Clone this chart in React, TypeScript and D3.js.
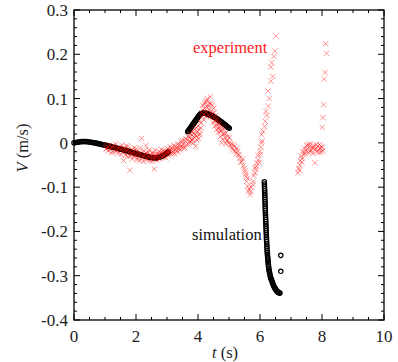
import React from "react";
import * as d3 from "d3";

const xTicks = [0, 2, 4, 6, 8, 10];
const yTicks = [-0.4, -0.3, -0.2, -0.1, 0, 0.1, 0.2, 0.3];
const yTickLabels = ["-0.4", "-0.3", "-0.2", "-0.1", "0", "0.1", "0.2", "0.3"];

// simulation (black open circles)
const simSeg1: [number, number][] = [
  [0, 0], [0.05, 0.0008], [0.1, 0.0015], [0.15, 0.002], [0.2, 0.0025], [0.25, 0.0028], [0.3, 0.003], [0.35, 0.003],
  [0.4, 0.0028], [0.45, 0.0025], [0.5, 0.002], [0.55, 0.0014], [0.6, 0.0008], [0.65, 0.0002], [0.7, -0.0005],
  [0.75, -0.0012], [0.8, -0.002], [0.85, -0.0028], [0.9, -0.0036], [0.95, -0.0044], [1.0, -0.0052], [1.05, -0.006],
  [1.1, -0.0068], [1.15, -0.0077], [1.2, -0.0086], [1.25, -0.0095], [1.3, -0.0104], [1.35, -0.0113], [1.4, -0.0122],
  [1.45, -0.0131], [1.5, -0.014], [1.55, -0.015], [1.6, -0.016], [1.65, -0.017], [1.7, -0.018], [1.75, -0.019],
  [1.8, -0.02], [1.85, -0.021], [1.9, -0.022], [1.95, -0.023], [2.0, -0.024], [2.05, -0.025], [2.1, -0.026],
  [2.15, -0.027], [2.2, -0.028], [2.25, -0.029], [2.3, -0.0299], [2.35, -0.0308], [2.4, -0.0316], [2.45, -0.0324],
  [2.5, -0.033], [2.55, -0.0335], [2.6, -0.0338], [2.65, -0.0338], [2.7, -0.0333], [2.75, -0.0325], [2.8, -0.0312],
  [2.85, -0.0295], [2.9, -0.0275], [2.95, -0.0252], [3.0, -0.0228], [3.04, -0.0208],
];
const simSeg2: [number, number][] = [
  [3.67, 0.025], [3.69, 0.027], [3.71, 0.029], [3.73, 0.031], [3.75, 0.033], [3.77, 0.035], [3.79, 0.037],
  [3.81, 0.039], [3.83, 0.041], [3.85, 0.043], [3.87, 0.045], [3.89, 0.047], [3.91, 0.049], [3.93, 0.051],
  [3.95, 0.053], [3.97, 0.055], [3.99, 0.057], [4.01, 0.059], [4.03, 0.061], [4.05, 0.063], [4.08, 0.065],
  [4.11, 0.066], [4.14, 0.0668], [4.17, 0.0672], [4.2, 0.0672], [4.23, 0.067], [4.26, 0.0665], [4.29, 0.066],
  [4.32, 0.0652], [4.35, 0.0644], [4.38, 0.0635], [4.41, 0.0625], [4.44, 0.0614], [4.47, 0.0602], [4.5, 0.059],
  [4.53, 0.0578], [4.56, 0.0565], [4.59, 0.0552], [4.62, 0.0538], [4.65, 0.0524], [4.68, 0.051], [4.71, 0.0495],
  [4.74, 0.048], [4.77, 0.0465], [4.8, 0.045], [4.83, 0.0433], [4.86, 0.0416], [4.89, 0.04], [4.92, 0.0382],
  [4.95, 0.0365], [4.98, 0.0348], [5.01, 0.033],
];
const simSeg3: [number, number][] = [
  [6.14, -0.088], [6.142, -0.093], [6.145, -0.098], [6.147, -0.103], [6.15, -0.108], [6.152, -0.113],
  [6.155, -0.118], [6.157, -0.123], [6.16, -0.128], [6.162, -0.133], [6.165, -0.138], [6.167, -0.143],
  [6.17, -0.148], [6.172, -0.153], [6.175, -0.158], [6.177, -0.163], [6.18, -0.168], [6.183, -0.173],
  [6.186, -0.178], [6.189, -0.183], [6.192, -0.188], [6.195, -0.193], [6.198, -0.198], [6.201, -0.203],
  [6.204, -0.208], [6.207, -0.213], [6.21, -0.218], [6.214, -0.223], [6.218, -0.228], [6.222, -0.233],
  [6.226, -0.238], [6.23, -0.243], [6.234, -0.247], [6.238, -0.251], [6.243, -0.255], [6.248, -0.259],
  [6.253, -0.263], [6.258, -0.267], [6.264, -0.271], [6.27, -0.275], [6.276, -0.279], [6.283, -0.283],
  [6.29, -0.287], [6.3, -0.29], [6.31, -0.294], [6.322, -0.298], [6.334, -0.302], [6.347, -0.305],
  [6.36, -0.3075], [6.374, -0.31], [6.389, -0.313], [6.404, -0.316], [6.42, -0.319], [6.436, -0.322],
  [6.453, -0.3245], [6.47, -0.327], [6.488, -0.329], [6.506, -0.331], [6.525, -0.333], [6.544, -0.335],
  [6.564, -0.336], [6.584, -0.337], [6.604, -0.338], [6.624, -0.339], [6.644, -0.339],
];
const simExtra: [number, number][] = [[6.67, -0.254], [6.67, -0.29]];

// experiment (red crosses)
const expBand: [number, number][] = [
  [1.02, -0.004], [1.06, -0.012], [1.1, -0.018], [1.14, -0.006], [1.18, -0.015], [1.22, -0.009], [1.26, -0.02],
  [1.3, -0.011], [1.34, -0.003], [1.38, -0.016], [1.42, -0.024], [1.46, -0.01], [1.5, -0.014], [1.54, -0.005],
  [1.58, -0.021], [1.6, -0.04], [1.62, -0.013], [1.66, -0.028], [1.7, -0.017], [1.74, -0.008], [1.78, -0.022],
  [1.8, -0.062], [1.82, -0.03], [1.86, -0.015], [1.9, -0.024], [1.94, -0.011], [1.98, -0.027], [2.02, -0.019],
  [2.06, -0.033], [2.1, -0.022], [2.14, -0.012], [2.18, 0.01], [2.22, -0.028], [2.26, -0.018], [2.3, -0.035],
  [2.32, -0.006], [2.34, -0.024], [2.38, -0.03], [2.42, -0.016], [2.46, -0.027], [2.5, -0.036], [2.54, -0.021],
  [2.58, -0.03], [2.59, -0.059], [2.62, -0.017], [2.66, -0.026], [2.7, -0.034], [2.74, -0.02], [2.78, -0.028],
  [2.82, -0.015], [2.86, -0.024], [2.9, -0.031], [2.94, -0.018], [2.98, -0.025], [3.02, -0.013], [3.06, -0.021],
  [3.1, -0.009], [3.14, -0.017], [3.18, -0.024], [3.22, -0.006], [3.26, -0.014], [3.3, -0.019], [3.34, -0.003],
  [3.38, -0.011], [3.42, -0.016], [3.46, 0.002], [3.5, -0.007], [3.54, -0.013], [3.58, 0.005], [3.62, -0.004],
];
const expBand2: [number, number][] = [
  [1.04, -0.014], [1.12, -0.01], [1.2, -0.022], [1.28, -0.006], [1.36, -0.019], [1.44, -0.013], [1.52, -0.026],
  [1.56, -0.012], [1.64, -0.018], [1.68, -0.007], [1.72, -0.03], [1.76, -0.016], [1.84, -0.026], [1.88, -0.036],
  [1.92, -0.019], [1.96, -0.031], [2.0, -0.014], [2.04, -0.038], [2.08, -0.027], [2.12, -0.04], [2.16, -0.024],
  [2.2, -0.034], [2.24, -0.042], [2.28, -0.026], [2.36, -0.038], [2.4, -0.022], [2.44, -0.04], [2.48, -0.03],
  [2.52, -0.042], [2.56, -0.026], [2.6, -0.036], [2.64, -0.03], [2.68, -0.04], [2.72, -0.026], [2.76, -0.036],
  [2.8, -0.022], [2.84, -0.032], [2.88, -0.018], [2.92, -0.026], [2.96, -0.034], [3.0, -0.02], [3.04, -0.028],
  [3.08, -0.016], [3.12, -0.025], [3.16, -0.012], [3.2, -0.018], [3.24, -0.024], [3.28, -0.008], [3.32, -0.012],
  [3.36, -0.02], [3.4, -0.004], [3.44, -0.01], [3.48, 0.006], [3.52, -0.002], [3.56, -0.01], [3.6, 0.01],
];
const expPeak: [number, number][] = [
  [3.66, 0.006], [3.7, -0.004], [3.74, 0.012], [3.77, 0.002], [3.8, 0.018], [3.83, 0.008], [3.86, 0.022],
  [3.89, 0.012], [3.92, -0.008], [3.95, 0.016], [3.98, 0.026], [4.01, 0.01], [4.04, 0.03], [4.07, 0.02],
  [4.1, 0.045], [4.13, 0.06], [4.16, 0.075], [4.19, 0.052], [4.22, 0.088], [4.25, 0.07], [4.28, 0.095],
  [4.31, 0.08], [4.34, 0.062], [4.37, 0.09], [4.4, 0.104], [4.43, 0.072], [4.46, 0.085], [4.49, 0.058],
  [4.52, 0.068], [4.55, 0.05], [4.58, 0.062], [4.61, 0.04], [4.64, 0.052], [4.67, 0.032], [4.7, 0.044],
  [4.73, 0.026], [4.76, 0.0], [4.78, 0.036], [4.81, 0.02], [4.84, 0.03], [4.87, 0.012], [4.9, 0.022],
  [4.93, 0.004], [4.96, 0.014], [5.0, 0.0], [5.04, -0.006], [5.09, -0.011], [5.14, -0.004], [5.2, -0.018],
  [5.25, -0.012], [5.3, -0.026], [5.35, -0.034], [5.41, -0.042], [5.46, -0.052], [5.52, -0.064], [5.55, -0.076],
  [5.57, -0.087], [5.6, -0.098], [5.62, -0.109], [5.68, -0.117], [5.73, -0.1], [5.78, -0.087], [5.84, -0.068],
  [5.84, -0.056], [5.89, -0.053], [5.9, -0.045], [5.95, -0.038], [6.0, -0.019], [6.02, -0.026], [6.05, 0.0],
  [6.07, 0.004], [6.05, 0.019], [6.15, 0.037], [6.17, 0.049], [6.19, 0.071], [6.27, 0.083], [6.26, 0.117],
  [6.35, 0.139], [6.41, 0.15], [6.35, 0.171], [6.38, 0.181], [6.45, 0.195], [6.48, 0.207], [6.51, 0.241],
];
const expPeak2: [number, number][] = [
  [3.68, 0.014], [3.72, 0.002], [3.76, 0.02], [3.79, 0.008], [3.82, 0.026], [3.85, 0.0], [3.88, 0.03],
  [3.91, 0.018], [3.94, 0.034], [3.97, 0.006], [4.0, 0.038], [4.03, 0.018], [4.06, 0.048], [4.09, 0.034],
  [4.12, 0.068], [4.15, 0.085], [4.18, 0.064], [4.21, 0.078], [4.24, 0.092], [4.27, 0.06], [4.3, 0.1],
  [4.33, 0.085], [4.36, 0.074], [4.39, 0.058], [4.42, 0.088], [4.45, 0.066], [4.48, 0.046], [4.51, 0.078],
  [4.54, 0.038], [4.57, 0.052], [4.6, 0.03], [4.63, 0.044], [4.66, 0.024], [4.69, 0.036], [4.72, 0.014],
  [4.75, 0.028], [4.8, 0.008], [4.85, 0.02], [4.9, -0.002], [4.95, 0.006], [5.02, 0.012], [5.07, -0.002],
  [5.12, -0.016], [5.18, -0.008], [5.23, -0.024], [5.28, -0.018], [5.33, -0.028], [5.38, -0.044], [5.44, -0.036],
  [5.49, -0.058], [5.54, -0.07], [5.6, -0.08], [5.65, -0.104], [5.7, -0.11], [5.76, -0.094], [5.8, -0.074],
  [5.87, -0.06], [5.93, -0.028], [5.98, -0.044], [6.03, -0.01], [6.1, 0.026], [6.22, 0.062], [6.3, 0.1],
];
const expLate: [number, number][] = [
  [7.22, -0.068], [7.25, -0.058], [7.28, -0.05], [7.3, -0.04], [7.33, -0.03], [7.36, -0.036], [7.38, -0.02],
  [7.41, -0.026], [7.44, -0.012], [7.47, -0.018], [7.5, -0.006], [7.53, -0.014], [7.56, -0.022], [7.59, -0.008],
  [7.62, -0.002], [7.65, -0.016], [7.68, -0.01], [7.71, -0.024], [7.74, -0.006], [7.77, -0.045], [7.8, -0.014],
  [7.83, -0.02], [7.86, -0.008], [7.89, -0.016], [7.92, -0.004], [7.95, -0.012], [7.98, -0.02], [8.01, -0.01],
  [8.03, -0.018], [7.27, -0.062], [7.35, -0.044], [7.46, -0.024], [7.55, -0.004], [7.64, -0.02], [7.72, -0.012],
  [7.82, -0.004], [7.9, -0.022], [7.97, -0.008], [8.01, 0.035], [8.03, 0.057], [8.05, 0.086], [8.07, 0.144],
  [8.1, 0.159], [8.15, 0.202], [8.12, 0.224],
];

const W = 398;
const H = 362;
const left = 74;
const right = 384;
const top = 10;
const bottom = 320;

export default function App() {
  const x = d3.scaleLinear().domain([0, 10]).range([left, right]);
  const y = d3.scaleLinear().domain([-0.4, 0.3]).range([bottom, top]);

  const xMinor = d3.range(0, 10.001, 0.5).filter((v) => Math.abs(v / 2 - Math.round(v / 2)) > 1e-6);
  const yMinor = d3.range(-0.4, 0.3001, 0.02).filter((v) => Math.abs(v * 10 - Math.round(v * 10)) > 1e-6);

  const sim = [...simSeg1, ...simSeg2, ...simSeg3, ...simExtra];
  const exp = [...expBand, ...expBand2, ...expPeak, ...expPeak2, ...expLate];
  const cs = 2.7;

  return (
    <svg width={W} height={H} style={{ position: "absolute", left: 0, top: 0 }}>
      <text x={193} y={53} fontSize={16.5} fill="#ff2020" style={{ fontFamily: '"Tinos"' }}>
        experiment
      </text>
      <text x={192} y={240} fontSize={16.5} fill="#111" style={{ fontFamily: '"Tinos"' }}>
        simulation
      </text>
      <text x={225} y={358} fontSize={16.5} textAnchor="middle" fill="#222" style={{ fontFamily: '"Tinos"' }}>
        <tspan fontStyle="italic">t</tspan> (s)
      </text>
      <text transform={`translate(28,148) rotate(-90)`} fontSize={16.5} textAnchor="middle" fill="#222" style={{ fontFamily: '"Tinos"' }}>
        <tspan fontStyle="italic">V</tspan> (m/s)
      </text>
      {xTicks.map((t) => (
        <text key={"xl" + t} x={x(t)} y={bottom + 22} textAnchor="middle" fontSize={17} fill="#222" style={{ fontFamily: '"Tinos"' }}>
          {"" + t}
        </text>
      ))}
      {yTicks.map((t, i) => (
        <text key={"yl" + t} x={left - 6} y={y(t) + 6} textAnchor="end" fontSize={17} fill="#222" style={{ fontFamily: '"Tinos"' }}>
          {yTickLabels[i]}
        </text>
      ))}
      <g>
        {sim.map((d, i) => (
          <circle key={"s" + i} cx={x(d[0])} cy={y(d[1])} r={2.2} fill="none" stroke="black" strokeWidth={1.2} />
        ))}
      </g>
      <g stroke="#ff0000" strokeOpacity={0.42} strokeWidth={1}>
        {exp.map((d, i) => {
          const px = x(d[0]);
          const py = y(d[1]);
          return (
            <path key={"e" + i} d={`M${px - cs},${py - cs}L${px + cs},${py + cs}M${px - cs},${py + cs}L${px + cs},${py - cs}`} />
          );
        })}
      </g>
      <rect x={left} y={top} width={right - left} height={bottom - top} fill="none" stroke="black" strokeWidth={1.3} />
      <g stroke="black" strokeWidth={1}>
        {xTicks.map((t) => (
          <g key={"xt" + t}>
            <line x1={x(t)} x2={x(t)} y1={bottom} y2={bottom - 6} />
            <line x1={x(t)} x2={x(t)} y1={top} y2={top + 6} />
          </g>
        ))}
        {xMinor.map((t) => (
          <g key={"xm" + t}>
            <line x1={x(t)} x2={x(t)} y1={bottom} y2={bottom - 3} />
            <line x1={x(t)} x2={x(t)} y1={top} y2={top + 3} />
          </g>
        ))}
        {yTicks.map((t) => (
          <g key={"yt" + t}>
            <line x1={left} x2={left + 6} y1={y(t)} y2={y(t)} />
            <line x1={right} x2={right - 6} y1={y(t)} y2={y(t)} />
          </g>
        ))}
        {yMinor.map((t) => (
          <g key={"ym" + t}>
            <line x1={left} x2={left + 3} y1={y(t)} y2={y(t)} />
            <line x1={right} x2={right - 3} y1={y(t)} y2={y(t)} />
          </g>
        ))}
      </g>
    </svg>
  );
}
